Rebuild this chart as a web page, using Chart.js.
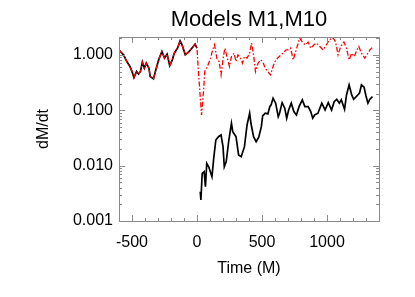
<!DOCTYPE html>
<html>
<head>
<meta charset="utf-8">
<title>Models M1,M10</title>
<script src="https://cdn.jsdelivr.net/npm/chart.js@4.4.1/dist/chart.umd.min.js"></script>
<style>
    html, body { margin: 0; padding: 0; background: #ffffff; }
    canvas { display: block; }
</style>
</head>
<body>
<canvas id="rateChart" width="415" height="297"></canvas>
<script>
/* ==========================================================================
   Data - accretion rate dM/dt vs time, models M1 (black) and M10 (red)
   ========================================================================== */

// shared part before t = 0 (both runs overlap)
const preTime = [-600, -590, -565, -540, -515, -500, -485, -465, -450, -435, -420, -405, -390, -370,
    -360, -335, -320, -295, -270, -250, -230, -210, -190, -175, -150, -130, -115, -90, -60, -35, -15, 0];
const preRate = [1.23, 1.15, 1.00, 0.757, 0.614, 0.499, 0.389, 0.50, 0.448, 0.50, 0.738, 0.575, 0.708, 0.575,
    0.405, 0.368, 0.50, 0.812, 1.15, 0.872, 1.03, 0.641, 0.812, 1.07, 1.32, 1.79, 1.52, 1.00, 1.15, 1.36, 1.56, 1.32];

// M1 after t = 0
const m1Time = [25, 30, 40, 55, 65, 75, 90, 115, 130, 145, 165, 185, 200, 210, 225, 245, 265, 275, 300, 320,
    340, 365, 385, 405, 415, 435, 455, 475, 495, 505, 525, 545, 560, 570, 585, 605, 625, 635, 655, 675,
    690, 705, 725, 745, 765, 785, 810, 830, 855, 875, 890, 905, 930, 960, 985, 1010, 1035, 1055, 1075, 1095,
    1110, 1135, 1150, 1170, 1190, 1205, 1230, 1250, 1265, 1285, 1300, 1315, 1330, 1350];
const m1Rate = [0.00337, 0.00239, 0.00726, 0.00776, 0.00415, 0.0110, 0.00955, 0.00630, 0.0145, 0.0290, 0.0333, 0.0357,
    0.0220, 0.00955, 0.0118, 0.0290, 0.0582, 0.0410, 0.0333, 0.0155, 0.0145, 0.0220, 0.0542, 0.0882, 0.0582, 0.0333,
    0.0271, 0.0325, 0.0505, 0.0788, 0.0882, 0.0857, 0.116, 0.125, 0.165, 0.134, 0.0766, 0.0882, 0.137, 0.109,
    0.0717, 0.101, 0.134, 0.0944, 0.0822, 0.116, 0.154, 0.116, 0.116, 0.0944, 0.0717, 0.0822, 0.0882, 0.134, 0.101,
    0.137, 0.101, 0.143, 0.158, 0.134, 0.154, 0.104, 0.189, 0.287, 0.189, 0.158, 0.181, 0.203, 0.287, 0.261,
    0.181, 0.134, 0.158, 0.176];

// M10 after t = 0
const m10Time = [10, 35, 50, 60, 80, 105, 120, 135, 155, 170, 185, 205, 215, 230, 250, 265, 285, 300, 315, 335,
    350, 365, 385, 405, 420, 435, 450, 470, 490, 505, 525, 545, 565, 585, 600, 620, 645, 660, 685, 700,
    720, 740, 755, 775, 790, 815, 835, 855, 875, 900, 920, 945, 970, 995, 1020, 1045, 1065, 1085, 1105, 1130,
    1150, 1170, 1190, 1210, 1230, 1245, 1265, 1290, 1315, 1330, 1355];
const m10Rate = [0.535, 0.082, 0.217, 0.50, 0.614, 0.872, 1.23, 1.52, 0.812, 0.757, 0.435, 1.00, 1.32, 0.932, 0.614,
    0.932, 1.07, 0.757, 1.00, 0.872, 0.708, 0.932, 0.872, 1.07, 1.63, 1.00, 0.50, 0.708, 0.812, 0.757, 0.575, 0.50,
    0.435, 0.614, 0.757, 0.872, 1.00, 1.07, 1.23, 1.23, 1.32, 0.812, 1.07, 1.52, 2.0, 1.63, 1.52, 1.70, 1.32, 1.52,
    1.63, 1.41, 1.23, 1.52, 1.87, 2.05, 1.74, 1.00, 1.41, 1.70, 1.32, 0.812, 1.07, 0.932, 1.23, 1.41, 1.07, 0.872,
    1.07, 1.23, 1.41];

// axis ticks
const xTicks = [-500, 0, 500, 1000];
const xMinorTicks = [-600, -400, -300, -200, -100, 100, 200, 300, 400, 600, 700, 800, 900, 1100, 1200, 1300, 1400];
const yTicks = [0.001, 0.01, 0.1, 1];
const yMinorTicks = [0.002, 0.003, 0.004, 0.005, 0.006, 0.007, 0.008, 0.009,
    0.02, 0.03, 0.04, 0.05, 0.06, 0.07, 0.08, 0.09,
    0.2, 0.3, 0.4, 0.5, 0.6, 0.7, 0.8, 0.9, 2];

const chartTitle = 'Models M1,M10';

/* ==========================================================================
   Build point lists
   ========================================================================== */

function toPoints(times, rates) {
    return times.map((t, i) => ({ x: t, y: rates[i] }));
}

const prePoints = toPoints(preTime, preRate);
// black run: gap between merger and restart
const m1Points = prePoints.concat([{ x: 12, y: null }], toPoints(m1Time, m1Rate));
const m10Points = prePoints.concat(toPoints(m10Time, m10Rate));

/* ==========================================================================
   Inward box ticks (IDL style frame) + title centred over the plot box
   ========================================================================== */

const frameColor = '#8a8a8a';
const fontFamily = "'Liberation Sans', Arial, Helvetica, sans-serif";

const boxTicks = {
    id: 'boxTicks',
    afterDatasetsDraw(chart) {
        const { ctx, chartArea: a, scales: { x, y } } = chart;
        ctx.save();
        ctx.strokeStyle = frameColor;
        ctx.lineWidth = 1;
        ctx.beginPath();
        const tickX = (v, len) => {
            const px = Math.round(x.getPixelForValue(v)) + 0.5;
            ctx.moveTo(px, a.bottom); ctx.lineTo(px, a.bottom - len);
            ctx.moveTo(px, a.top); ctx.lineTo(px, a.top + len);
        };
        const tickY = (v, len) => {
            const py = Math.round(y.getPixelForValue(v)) + 0.5;
            ctx.moveTo(a.left, py); ctx.lineTo(a.left + len, py);
            ctx.moveTo(a.right, py); ctx.lineTo(a.right - len, py);
        };
        xTicks.forEach(v => tickX(v, 6));
        xMinorTicks.forEach(v => tickX(v, 3));
        yTicks.forEach(v => tickY(v, 6));
        yMinorTicks.forEach(v => tickY(v, 3));
        ctx.stroke();
        ctx.strokeRect(Math.round(a.left) + 0.5, Math.round(a.top) + 0.5,
            Math.round(a.right - a.left), Math.round(a.bottom - a.top));

        // title
        ctx.fillStyle = '#000000';
        ctx.font = '22px ' + fontFamily;
        ctx.textAlign = 'center';
        ctx.textBaseline = 'middle';
        ctx.fillText(chartTitle, (a.left + a.right) / 2, 20);
        ctx.restore();
    }
};

/* ==========================================================================
   Chart
   ========================================================================== */

new Chart(document.getElementById('rateChart'), {
    type: 'line',
    data: {
        datasets: [{
            label: 'M10',
            data: m10Points,
            borderColor: '#ff0000',
            borderWidth: 1.3,
            borderDash: [5, 2, 1.5, 2],
            pointRadius: 0,
            tension: 0,
            fill: false
        }, {
            label: 'M1',
            data: m1Points,
            borderColor: '#000000',
            borderWidth: 1.7,
            pointRadius: 0,
            tension: 0,
            fill: false,
            spanGaps: false
        }]
    },
    options: {
        responsive: false,
        animation: false,
        layout: { padding: { left: 0, right: 36, top: 37, bottom: 0 } },
        plugins: {
            legend: { display: false },
            tooltip: { enabled: false },
            title: { display: false }
        },
        scales: {
            x: {
                type: 'linear',
                min: -600,
                max: 1400,
                afterBuildTicks: (scale) => { scale.ticks = xTicks.map(v => ({ value: v })); },
                afterFit: (scale) => { scale.height = 76; },
                grid: { display: false, drawTicks: false },
                border: { display: false },
                ticks: {
                    color: '#000000',
                    padding: 12,
                    maxRotation: 0,
                    font: { family: fontFamily, size: 16 },
                    callback: (v) => String(v)
                },
                title: {
                    display: true,
                    text: 'Time (M)',
                    color: '#000000',
                    font: { family: fontFamily, size: 16 },
                    padding: { top: 0, bottom: 19 }
                }
            },
            y: {
                type: 'logarithmic',
                min: 0.001,
                max: 2.1,
                afterBuildTicks: (scale) => { scale.ticks = yTicks.map(v => ({ value: v })); },
                afterFit: (scale) => { scale.width = 119; },
                grid: { display: false, drawTicks: false },
                border: { display: false },
                ticks: {
                    color: '#000000',
                    padding: 6,
                    font: { family: fontFamily, size: 16 },
                    callback: (v) => Number(v).toFixed(3)
                },
                title: {
                    display: true,
                    text: 'dM/dt',
                    color: '#000000',
                    font: { family: fontFamily, size: 16 },
                    padding: { top: 34, bottom: 0 }
                }
            }
        }
    },
    plugins: [boxTicks]
});
</script>
</body>
</html>
